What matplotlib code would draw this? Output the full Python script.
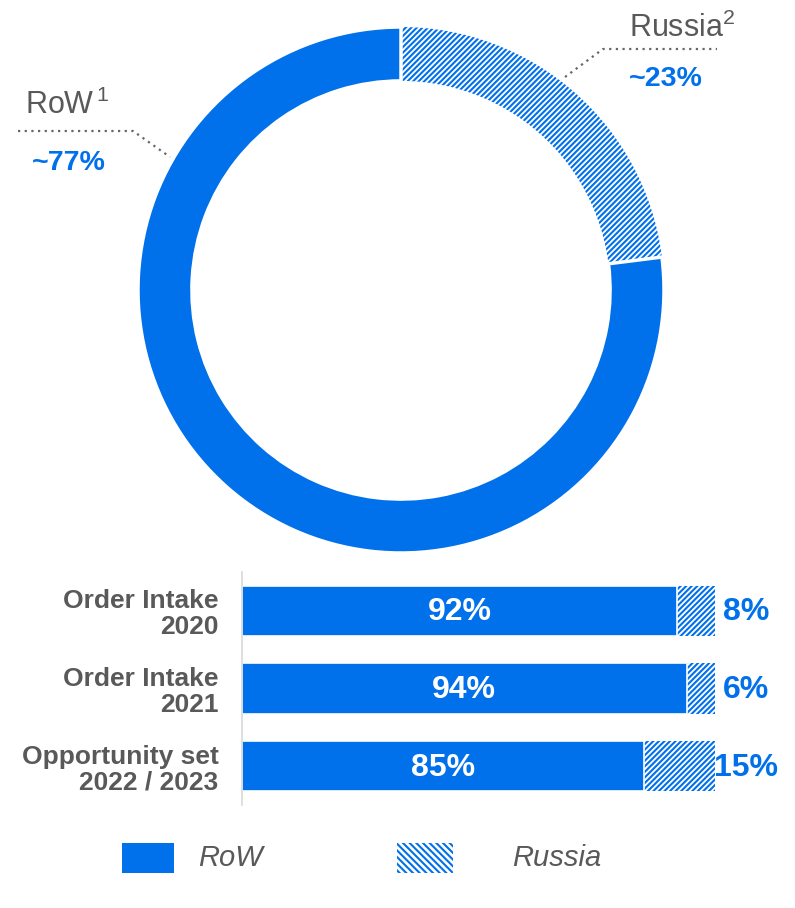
import matplotlib.pyplot as plt
import matplotlib as mpl

plt.rcParams['font.family'] = ['Liberation Sans', 'DejaVu Sans']
plt.rcParams['mathtext.fontset'] = 'custom'
plt.rcParams['mathtext.rm'] = 'Liberation Sans'
plt.rcParams['hatch.linewidth'] = 1.5

# donut shares
donut_labels = ['Russia', 'RoW']
donut_share = [23, 77]

# bar rows
categories = ['Order Intake\n2020', 'Order Intake\n2021', 'Opportunity set\n2022 / 2023']
row_share = [92, 94, 85]
russia_share = [8, 6, 15]

BLUE = '#0070EB'
GREY = '#595959'
W, H = 795, 908

fig = plt.figure(figsize=(W / 100, H / 100), dpi=100, facecolor='w')


def fx(px):
    return px / W


def fy(py):
    return 1 - py / H


# donut
ax1 = fig.add_axes([fx(138), fy(553), fx(664) - fx(138), fy(27) - fy(553)])
wedges, _ = ax1.pie(donut_share, startangle=90, counterclock=False, radius=1,
                    colors=['white', BLUE],
                    wedgeprops=dict(width=0.205, edgecolor='white', linewidth=2.5))
# hatched Russia wedge: hatch takes the edge colour
wedges[0].set_edgecolor(BLUE)
wedges[0].set_linewidth(0)
wedges[0].set_hatch('//////')
ax1.set_xlim(-1, 1)
ax1.set_ylim(-1, 1)
ax1.set_aspect('equal')
ax1.axis('off')

# leader lines + labels (figure coords)
fig.lines.append(mpl.lines.Line2D([fx(565), fx(603), fx(717)], [fy(77), fy(49), fy(49)],
                                  transform=fig.transFigure, color='#666666', lw=1.6, ls=(0, (1, 2))))
fig.lines.append(mpl.lines.Line2D([fx(18), fx(133), fx(170)], [fy(131), fy(131), fy(157)],
                                  transform=fig.transFigure, color='#666666', lw=1.6, ls=(0, (1, 2))))

fig.text(fx(629), fy(37), r'Russia$^{2}$', fontsize=22, color=GREY, ha='left', va='baseline')
fig.text(fx(629), fy(86), '~23%', fontsize=20.5, color=BLUE, fontweight='bold', ha='left', va='baseline')
fig.text(fx(25), fy(114), r'RoW$^{\,1}$', fontsize=22, color=GREY, ha='left', va='baseline')
fig.text(fx(32), fy(170), '~77%', fontsize=20.5, color=BLUE, fontweight='bold', ha='left', va='baseline')

# bars
ax2 = fig.add_axes([fx(242), fy(805), fx(715) - fx(242), fy(572) - fy(805)])
ypos = list(range(len(categories)))
ax2.barh(ypos, russia_share, left=row_share, height=0.645, color='white',
         edgecolor=BLUE, hatch='//////', linewidth=0)
ax2.barh(ypos, row_share, height=0.645, color=BLUE, edgecolor='white', linewidth=1.2)
for i in ypos:
    ax2.text(row_share[i] / 2, i + 0.02, f'{row_share[i]}%', color='white', fontsize=23,
             fontweight='bold', ha='center', va='center')
    ax2.text(106.6, i + 0.02, f'{russia_share[i]}%', color=BLUE, fontsize=23,
             fontweight='bold', ha='center', va='center')
ax2.set_xlim(0, 100)
ax2.set_ylim(2.5, -0.5)
ax2.set_yticks(ypos)
ax2.set_yticklabels(categories, fontsize=19, fontweight='bold', color=GREY, linespacing=1.1)
ax2.tick_params(axis='y', length=0, pad=17)
ax2.set_xticks([])
for s in ['top', 'right', 'bottom']:
    ax2.spines[s].set_visible(False)
ax2.spines['left'].set_color('#D9D9D9')
ax2.spines['left'].set_linewidth(1.2)
ax2.set_facecolor('none')

# legend
fig.patches.append(mpl.patches.Rectangle((fx(122), fy(873)), fx(174) - fx(122), fy(843) - fy(873),
                                         transform=fig.transFigure, facecolor=BLUE, edgecolor='none'))
fig.patches.append(mpl.patches.Rectangle((fx(397), fy(873)), fx(453) - fx(397), fy(843) - fy(873),
                                         transform=fig.transFigure, facecolor='white', edgecolor=BLUE,
                                         linewidth=0, hatch='\\\\\\\\\\'))
fig.text(fx(198), fy(858), 'RoW', fontsize=21, color=GREY, style='italic', ha='left', va='center')
fig.text(fx(512), fy(858), 'Russia', fontsize=21, color=GREY, style='italic', ha='left', va='center')

fig.savefig('out.png', dpi=100, facecolor='w')
